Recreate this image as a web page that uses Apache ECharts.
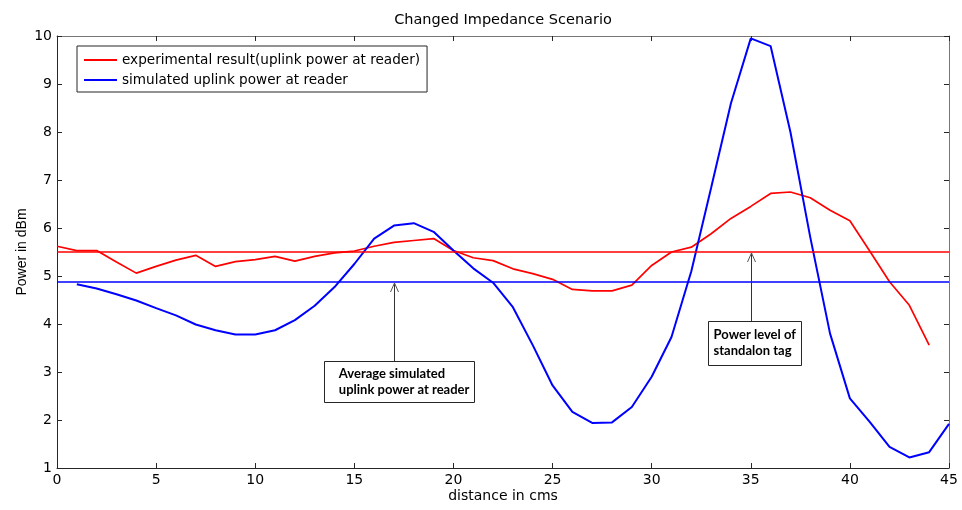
<!DOCTYPE html>
<html>
<head>
<meta charset="utf-8">
<script src="https://cdn.jsdelivr.net/npm/echarts@6/dist/echarts.min.js"></script>
<style>html,body{margin:0;padding:0;background:#fff}#c{width:962px;height:510px}</style>
</head>
<body>
<div id="c"></div>
<script>
// ---- data ----
const distance = [0,1,2,3,4,5,6,7,8,9,10,11,12,13,14,15,16,17,18,19,20,21,22,23,24,25,26,27,28,29,30,31,32,33,34,35,36,37,38,39,40,41,42,43,44,45];
const experimental = [5.62,5.53,5.53,5.29,5.06,5.20,5.33,5.43,5.20,5.30,5.34,5.41,5.31,5.41,5.48,5.52,5.62,5.70,5.74,5.78,5.53,5.38,5.32,5.15,5.05,4.93,4.72,4.69,4.69,4.81,5.22,5.50,5.60,5.88,6.20,6.45,6.72,6.75,6.63,6.37,6.15,5.52,4.88,4.39,3.56,null];
const simulated = [null,4.83,4.74,4.62,4.49,4.33,4.18,3.99,3.87,3.78,3.78,3.87,4.08,4.38,4.77,5.25,5.78,6.05,6.10,5.92,5.53,5.16,4.86,4.35,3.56,2.72,2.17,1.94,1.95,2.27,2.90,3.73,5.10,6.84,8.60,9.95,9.79,8.00,5.81,3.80,2.45,1.96,1.44,1.22,1.33,1.92];
const standaloneLevel = 5.5;
const avgSimulated = 4.88;
const xTicks = {min: 0, max: 45, step: 5};
const yTicks = {min: 1, max: 10, step: 1};
const seriesNames = ['experimental result(uplink power at reader)', 'simulated uplink power at reader'];
// annotations: arrow x, arrow target value, text, box extent in data units [x0, x1, yTop, yBottom]
const annotX = [17, 35];
const annotTarget = [avgSimulated, standaloneLevel];
const annotText = [['Average simulated', 'uplink power at reader'], ['Power level of', 'standalon tag']];
const annotBox = [[13.46, 21.02, 3.23, 2.375], [32.82, 37.52, 4.06, 3.14]];
const annotPad = [15, 6];

const pairs = (ys) => distance.map((d, i) => [d, ys[i]]).filter(p => p[1] !== null);

const font = 'DejaVu Sans, Arial, sans-serif';
const chart = echarts.init(document.getElementById('c'), null, {renderer: 'canvas'});

function tick() { return {show: true, inside: true, length: 5, lineStyle: {color: '#262626', width: 1}}; }

chart.setOption({
  animation: false,
  backgroundColor: '#fff',
  title: {
    text: 'Changed Impedance Scenario', left: 498, top: 8, textAlign: 'center',
    textStyle: {fontFamily: font, fontSize: 14.5, fontWeight: 'normal', color: '#000'}
  },
  grid: {left: 57, right: 13, top: 36, bottom: 42},
  legend: {
    orient: 'vertical', left: 77, top: 46,
    padding: [7, 7, 5, 7], itemGap: 6, itemWidth: 33, itemHeight: 2,
    borderColor: '#262626', borderWidth: 1, backgroundColor: '#fff',
    icon: 'rect',
    textStyle: {fontFamily: font, fontSize: 13.6, color: '#000'},
    data: seriesNames
  },
  xAxis: [
    {
      type: 'value', min: xTicks.min, max: xTicks.max, interval: xTicks.step,
      position: 'bottom', splitLine: {show: false}, axisTick: tick(),
      axisLine: {show: true, onZero: false, lineStyle: {color: '#262626', width: 1}},
      axisLabel: {fontFamily: font, fontSize: 14, color: '#000', margin: 5},
      name: 'distance in cms', nameLocation: 'middle', nameGap: 21, nameMoveOverlap: false,
      nameTextStyle: {fontFamily: font, fontSize: 14, color: '#000'}
    },
    {
      type: 'value', min: xTicks.min, max: xTicks.max, interval: xTicks.step,
      position: 'top', splitLine: {show: false}, axisTick: tick(),
      axisLine: {show: true, onZero: false, lineStyle: {color: '#777', width: 1}},
      axisLabel: {show: false}
    }
  ],
  yAxis: [
    {
      type: 'value', min: yTicks.min, max: yTicks.max, interval: yTicks.step,
      position: 'left', splitLine: {show: false}, axisTick: tick(),
      axisLine: {show: true, onZero: false, lineStyle: {color: '#262626', width: 1}},
      axisLabel: {fontFamily: font, fontSize: 14, color: '#000', margin: 5},
      name: 'Power in dBm', nameLocation: 'middle', nameGap: 28, nameMoveOverlap: false,
      nameTextStyle: {fontFamily: 'Liberation Sans, Arial, sans-serif', fontSize: 14, color: '#000'}
    },
    {
      type: 'value', min: yTicks.min, max: yTicks.max, interval: yTicks.step,
      position: 'right', splitLine: {show: false}, axisTick: tick(),
      axisLine: {show: true, onZero: false, lineStyle: {color: '#777', width: 1}},
      axisLabel: {show: false}
    }
  ],
  series: [
    {
      name: seriesNames[0], type: 'line', data: pairs(experimental),
      symbol: 'none', color: '#ff0000', lineStyle: {width: 1.7, color: '#ff0000'},
      z: 3,
      markLine: {
        silent: true, symbol: 'none', label: {show: false},
        lineStyle: {color: '#ff0000', width: 1.6, type: 'solid'},
        data: [{yAxis: standaloneLevel}]
      }
    },
    {
      name: seriesNames[1], type: 'line', data: pairs(simulated),
      symbol: 'none', color: '#0000ff', lineStyle: {width: 2, color: '#0000ff'},
      z: 4,
      markLine: {
        silent: true, symbol: 'none', label: {show: false},
        lineStyle: {color: '#0000ff', width: 1.6, type: 'solid'},
        data: [{yAxis: avgSimulated}]
      }
    }
  ]
});

function px(x, y) { return chart.convertToPixel({xAxisIndex: 0, yAxisIndex: 0}, [x, y]); }

const graphics = [];
annotX.forEach((ax, i) => {
  const b = annotBox[i];
  const tl = px(b[0], b[2]);
  const br = px(b[1], b[3]);
  const top = px(ax, annotTarget[i]);
  const ax0 = Math.round(top[0]) + 0.5;
  const ty = Math.round(top[1]) + 1;
  graphics.push({type: 'line', silent: true, z: 10,
    shape: {x1: ax0, y1: Math.round(tl[1]), x2: ax0, y2: ty},
    style: {stroke: '#333', lineWidth: 1}});
  graphics.push({type: 'polyline', silent: true, z: 10,
    shape: {points: [[ax0 - 4, ty + 9], [ax0, ty], [ax0 + 4, ty + 9]]},
    style: {stroke: '#555', lineWidth: 1, fill: null}});
  graphics.push({type: 'rect', silent: true, z: 10,
    shape: {x: Math.round(tl[0]) + 0.5, y: Math.round(tl[1]) + 0.5, width: Math.round(br[0] - tl[0]), height: Math.round(br[1] - tl[1])},
    style: {stroke: '#262626', lineWidth: 1, fill: '#fff'}});
  graphics.push({type: 'text', silent: true, z: 11,
    x: tl[0] + annotPad[i], y: (tl[1] + br[1]) / 2,
    style: {text: annotText[i].join('\n'), fontFamily: 'Lato, Open Sans, sans-serif', fontWeight: 'bold', fontSize: 13,
      lineHeight: 16, fill: '#000', verticalAlign: 'middle', align: 'left'}});
});
chart.setOption({graphic: graphics});
</script>
</body>
</html>
